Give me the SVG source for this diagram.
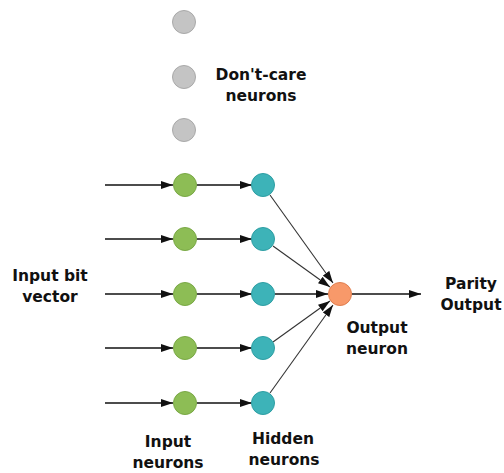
<svg xmlns="http://www.w3.org/2000/svg" width="504" height="473" viewBox="0 0 504 473">
<defs>
<style>
.gray{fill:#c4c4c4;stroke:#a9a9a9;stroke-width:1}
.green{fill:#8dbd55;stroke:#79a845;stroke-width:1}
.teal{fill:#3db3b8;stroke:#2e9ea3;stroke-width:1}
.orange{fill:#f8996a;stroke:#e07f50;stroke-width:1}
.arr{stroke:#111;stroke-width:1.4;fill:none;marker-end:url(#ah)}
.diag{stroke:#333;stroke-width:1.1;fill:none;marker-end:url(#ah)}
text{font-family:"DejaVu Sans",Verdana,sans-serif;font-weight:bold;font-size:15.5px;fill:#111;text-anchor:middle}
</style>
<marker id="ah" viewBox="0 0 12 8" refX="12" refY="4" markerWidth="12" markerHeight="8" markerUnits="userSpaceOnUse" orient="auto"><path d="M0,0 L12,4 L0,8 Z" fill="#111"/></marker>
</defs>
<g id="connectors">
<line class="arr" x1="105" y1="185" x2="173" y2="185"/>
<line class="arr" x1="105" y1="239" x2="173" y2="239"/>
<line class="arr" x1="105" y1="294" x2="173" y2="294"/>
<line class="arr" x1="105" y1="348" x2="173" y2="348"/>
<line class="arr" x1="105" y1="403" x2="173" y2="403"/>
<line class="arr" x1="197" y1="185" x2="252" y2="185"/>
<line class="arr" x1="197" y1="239" x2="252" y2="239"/>
<line class="arr" x1="197" y1="294" x2="252" y2="294"/>
<line class="arr" x1="197" y1="348" x2="252" y2="348"/>
<line class="arr" x1="197" y1="403" x2="252" y2="403"/>
<line class="diag" x1="270" y1="195" x2="333" y2="283"/>
<line class="diag" x1="273" y1="246" x2="330" y2="287"/>
<line class="arr" x1="275" y1="294" x2="328" y2="294"/>
<line class="diag" x1="273" y1="342" x2="330" y2="301"/>
<line class="diag" x1="270" y1="393" x2="333" y2="305"/>
<line class="arr" x1="352" y1="294" x2="421" y2="294"/>
</g>
<g id="dontcare1"><circle class="gray" cx="184" cy="22" r="11.5"/></g>
<g id="dontcare2"><circle class="gray" cx="184" cy="77" r="11.5"/></g>
<g id="dontcare3"><circle class="gray" cx="184" cy="130" r="11.5"/></g>
<g id="in1"><circle class="green" cx="185" cy="185" r="11.5"/></g>
<g id="in2"><circle class="green" cx="185" cy="239" r="11.5"/></g>
<g id="in3"><circle class="green" cx="185" cy="294" r="11.5"/></g>
<g id="in4"><circle class="green" cx="185" cy="348" r="11.5"/></g>
<g id="in5"><circle class="green" cx="185" cy="403" r="11.5"/></g>
<g id="h1"><circle class="teal" cx="263" cy="185" r="11.5"/></g>
<g id="h2"><circle class="teal" cx="263" cy="239" r="11.5"/></g>
<g id="h3"><circle class="teal" cx="263" cy="294" r="11.5"/></g>
<g id="h4"><circle class="teal" cx="263" cy="348" r="11.5"/></g>
<g id="h5"><circle class="teal" cx="263" cy="403" r="11.5"/></g>
<g id="out"><circle class="orange" cx="340" cy="294" r="11.5"/></g>
<g id="labels">
<text x="261" y="80">Don't-care</text>
<text x="261" y="101">neurons</text>
<text x="50" y="281">Input bit</text>
<text x="50" y="302">vector</text>
<text x="168" y="447">Input</text>
<text x="168" y="468">neurons</text>
<text x="283" y="444">Hidden</text>
<text x="284" y="465">neurons</text>
<text x="377" y="333">Output</text>
<text x="377" y="354">neuron</text>
<text x="471" y="289">Parity</text>
<text x="471" y="310">Output</text>
</g>
</svg>
